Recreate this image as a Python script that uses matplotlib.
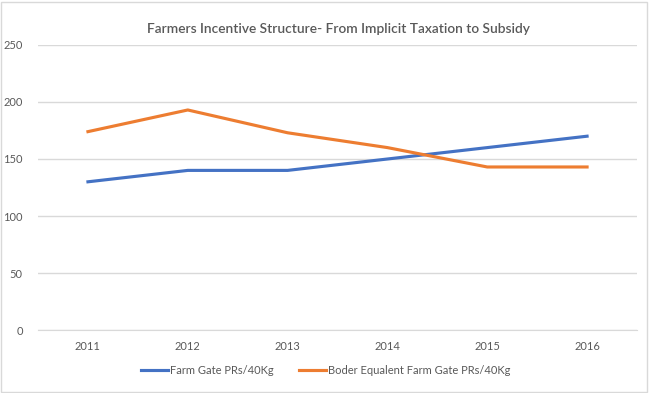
import numpy as np
import matplotlib.pyplot as plt
from matplotlib.patches import Rectangle

years = ['2011', '2012', '2013', '2014', '2015', '2016']
farm_gate = [130, 140, 140, 150, 160, 170]
border_equiv = [174, 193, 173, 160, 143, 143]
yticks = [0, 50, 100, 150, 200, 250]

plt.rcParams['font.family'] = ['Lato', 'DejaVu Sans']
txt = '#595959'

fig = plt.figure(figsize=(6.49, 3.93), dpi=100)
fig.patches.append(Rectangle((0.002, 0.003), 0.995, 0.993, transform=fig.transFigure,
                             fill=False, edgecolor='#d9d9d9', linewidth=1))

ax = fig.add_axes([0.0586, 0.1603, 0.9229, 0.7252])
x = np.arange(len(years))
ax.plot(x, farm_gate, color='#4472C4', linewidth=2.25, label='Farm Gate PRs/40Kg')
ax.plot(x, border_equiv, color='#ED7D31', linewidth=2.25, label='Boder Equalent Farm Gate PRs/40Kg')

ax.set_xlim(-0.5, len(years) - 0.5)
ax.set_ylim(0, 250)
ax.set_xticks(x)
ax.set_xticklabels(years)
ax.set_yticks(yticks)
ax.grid(axis='y', color='#d9d9d9', linewidth=1)
ax.set_axisbelow(True)
for s in ['top', 'right', 'left']:
    ax.spines[s].set_visible(False)
ax.spines['bottom'].set_color('#d9d9d9')
ax.tick_params(length=0, colors=txt, labelsize=8, pad=8)
ax.tick_params(axis='y', pad=11)

fig.text(0.521, 0.925, 'Farmers Incentive Structure- From Implicit Taxation to Subsidy',
         ha='center', va='center', fontsize=9.9, color=txt, fontweight='semibold')

fig.legend(loc='center', bbox_to_anchor=(0.502, 0.058), ncol=2, frameon=False,
           fontsize=8, labelcolor=txt, handlelength=2.4, columnspacing=2.25,
           handletextpad=0.2)

fig.savefig('out.png', dpi=100)
